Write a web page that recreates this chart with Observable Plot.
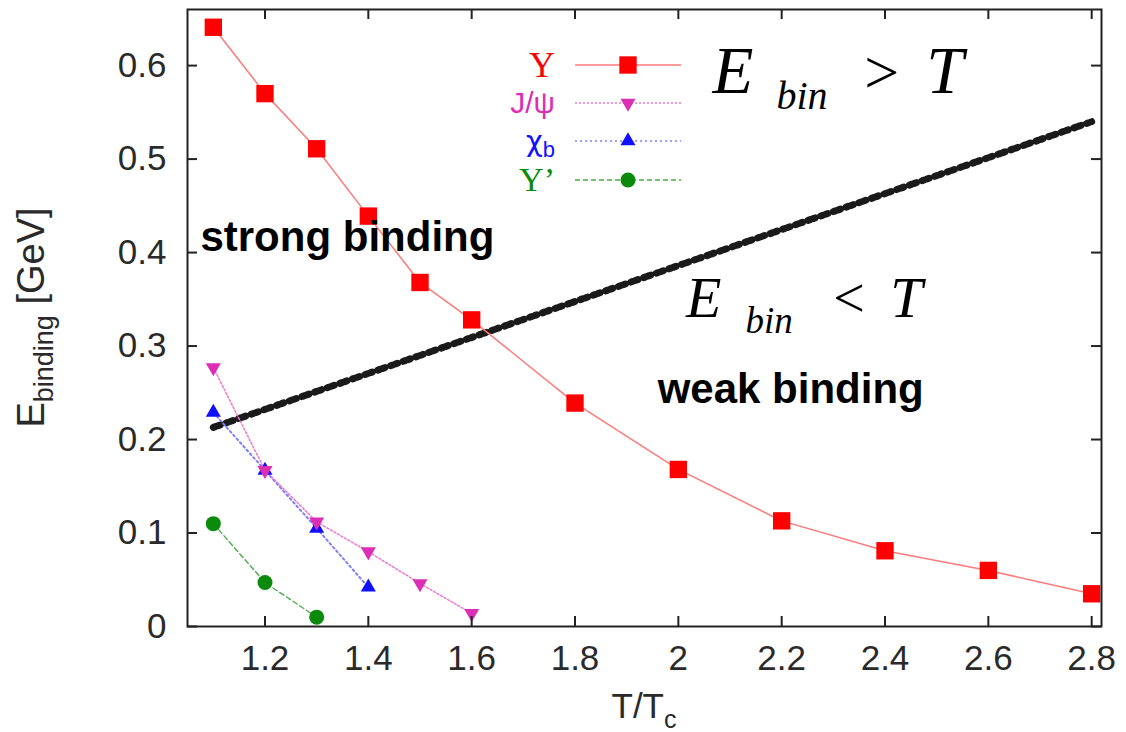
<!DOCTYPE html>
<html><head><meta charset="utf-8">
<script src="https://cdn.jsdelivr.net/npm/d3@7"></script>
<script src="https://cdn.jsdelivr.net/npm/@observablehq/plot@0.6"></script>
<style>body{margin:0;background:#fff} #chart{width:1126px;height:732px}</style>
</head><body><div id="chart"></div>
<script>
// ---- data ----
const tUps = [1.1, 1.2, 1.3, 1.4, 1.5, 1.6, 1.8, 2.0, 2.2, 2.4, 2.6, 2.8];
const eUps = [0.641, 0.570, 0.511, 0.439, 0.368, 0.328, 0.239, 0.168, 0.113, 0.081, 0.060, 0.035];
const tJpsi = [1.1, 1.2, 1.3, 1.4, 1.5, 1.6];
const eJpsi = [0.277, 0.167, 0.112, 0.080, 0.046, 0.014];
const tChib = [1.1, 1.2, 1.3, 1.4];
const eChib = [0.229, 0.167, 0.105, 0.042];
const tUps2 = [1.1, 1.2, 1.3];
const eUps2 = [0.110, 0.047, 0.010];
const tThresh = [1.1, 2.8];
const eThresh = [0.213, 0.540];
const xTicks = [1.2, 1.4, 1.6, 1.8, 2, 2.2, 2.4, 2.6, 2.8];
const yTicks = [0, 0.1, 0.2, 0.3, 0.4, 0.5, 0.6];
const legendNames = ["\u03A5", "J/\u03C8", "\u03C7", "\u03A5\u2019"];
const regionText = ["strong binding", "weak binding"];
const regionT = [1.075, 1.96];
const regionE = [0.416, 0.254];
const mathText = ["E", "bin", ">", "T", "E", "bin", "<", "T"];
const mathT = [2.066, 2.19, 2.36, 2.48, 2.015, 2.13, 2.30, 2.41];
const mathE = [0.571, 0.554, 0.571, 0.571, 0.331, 0.314, 0.331, 0.331];

const colUps = "#ff0000", colJ = "#dc2fb5", colChi = "#1010ff", colUps2 = "#0b8a0b";
const pts = (ts, es) => ts.map((t, i) => ({t, e: es[i]}));
const ups = pts(tUps, eUps), jpsi = pts(tJpsi, eJpsi), chib = pts(tChib, eChib), ups2 = pts(tUps2, eUps2);
const thresh = pts(tThresh, eThresh);
const regions = regionText.map((s, i) => ({s, t: regionT[i], e: regionE[i]}));
const math = mathText.map((s, i) => ({s, t: mathT[i], e: mathE[i], i}));

const triDown = {draw(ctx, size) {
  const y = -Math.sqrt(size / (Math.sqrt(3) * 3));
  ctx.moveTo(0, -y * 2); ctx.lineTo(-Math.sqrt(3) * y, y); ctx.lineTo(Math.sqrt(3) * y, y); ctx.closePath();
}};

const W = 1126, H = 732, mL = 187, mR = 25, mT = 9, mB = 106;
const fw = W - mL - mR, fh = H - mT - mB;
const mathSize = (d) => [67, 40, 62, 67, 58, 37, 56, 58][d.i];
const sans = "'Liberation Sans', Arial, sans-serif";
const serif = "'Liberation Serif', 'Times New Roman', serif";

const plot = Plot.plot({
  width: W, height: H,
  marginLeft: mL, marginRight: mR, marginTop: mT, marginBottom: mB,
  style: {fontFamily: sans, background: "#fff", overflow: "visible"},
  x: {domain: [1.05, 2.819]},
  y: {domain: [0, 0.66]},
  marks: [
    // threshold E = T
    Plot.line(thresh, {x: "t", y: "e", stroke: "#1a1a1a", strokeWidth: 7, strokeDasharray: "2.2,3,2.2,6"}),
    // series lines
    Plot.line(ups2, {x: "t", y: "e", stroke: "#4aa84a", strokeWidth: 1.3, strokeDasharray: "5,3"}),
    Plot.line(chib, {x: "t", y: "e", stroke: "#7f7fff", strokeWidth: 2, strokeDasharray: "2,3"}),
    Plot.line(jpsi, {x: "t", y: "e", stroke: "#ee77cc", strokeWidth: 1.5, strokeDasharray: "2,2"}),
    Plot.line(ups, {x: "t", y: "e", stroke: "#ff7a7a", strokeWidth: 1.5}),
    // markers
    Plot.dot(ups2, {x: "t", y: "e", r: 7.5, fill: colUps2, symbol: "circle"}),
    Plot.dot(chib, {x: "t", y: "e", r: 5.6, fill: colChi, symbol: "triangle"}),
    Plot.dot(jpsi, {x: "t", y: "e", r: 5.6, fill: colJ, symbol: triDown}),
    Plot.dot(ups, {x: "t", y: "e", r: 9.8, fill: colUps, symbol: "square"}),
    // region labels
    Plot.text(regions, {x: "t", y: "e", text: "s", textAnchor: "start", fontSize: 42, fontWeight: "bold", fill: "#000"}),
    // E_bin vs T
    Plot.text(math.filter(d => d.s !== ">" && d.s !== "<"), {x: "t", y: "e", text: "s", textAnchor: "start", lineAnchor: "bottom", fontSize: mathSize, fontStyle: "italic", fontFamily: serif, fill: "#000"}),
    Plot.text(math.filter(d => d.s === ">" || d.s === "<"), {x: "t", y: "e", text: "s", textAnchor: "start", lineAnchor: "bottom", fontSize: mathSize, fontFamily: serif, fill: "#000"}),
    // inward ticks on all four sides
    Plot.tickX(xTicks, {x: d => d, insetTop: fh - 10, stroke: "#222", strokeWidth: 2}),
    Plot.tickX(xTicks, {x: d => d, insetBottom: fh - 10, stroke: "#222", strokeWidth: 2}),
    Plot.tickY(yTicks, {y: d => d, insetRight: fw - 10, stroke: "#222", strokeWidth: 2}),
    Plot.tickY(yTicks, {y: d => d, insetLeft: fw - 10, stroke: "#222", strokeWidth: 2}),
    Plot.axisX({ticks: xTicks, tickSize: 0, tickPadding: 19, tickFormat: d => String(d), fontSize: 35, fill: "#2a2a2a", label: null}),
    Plot.axisY({ticks: yTicks, tickSize: 0, tickPadding: 21, tickFormat: d => String(d), fontSize: 35, fill: "#2a2a2a", label: null}),
    Plot.frame({stroke: "#222", strokeWidth: 2})
  ]
});
document.getElementById("chart").appendChild(plot);

// axis titles with subscripts, legend
const svg = d3.select(plot);
const yl = svg.append("text").attr("transform", `translate(44,${mT + fh / 2}) rotate(-90)`)
  .attr("text-anchor", "middle").attr("fill", "#2a2a2a").attr("font-size", 38).attr("font-family", sans);
yl.append("tspan").text("E");
yl.append("tspan").attr("font-size", 27).attr("dy", 9).text("binding");
yl.append("tspan").attr("dy", -9).text(" [GeV]");
const xl = svg.append("text").attr("x", mL + fw / 2).attr("y", 718)
  .attr("text-anchor", "middle").attr("fill", "#2a2a2a").attr("font-size", 35).attr("font-family", sans);
xl.append("tspan").text("T/T");
xl.append("tspan").attr("font-size", 25).attr("dy", 10).text("c");

const lg = svg.append("g");
const rows = [
  {name: legendNames[0], col: colUps, line: "#ff7a7a", dash: null, sym: d3.symbolSquare, r: 9.8, font: serif, fs: 36, w: 1.5},
  {name: legendNames[1], col: colJ, line: "#ee77cc", dash: "2,2", sym: triDown, r: 5.6, font: sans, fs: 30, w: 1.5},
  {name: legendNames[2], col: colChi, line: "#9f9fff", dash: "2,3", sym: d3.symbolTriangle, r: 5.6, font: "'DejaVu Sans', sans-serif", fs: 29, sub: "b", w: 2},
  {name: legendNames[3], col: colUps2, line: "#4aa84a", dash: "5,3", sym: d3.symbolCircle, r: 7.5, font: serif, fs: 34, w: 1.3}
];
const ys = [65, 103, 141, 180];
rows.forEach((r, i) => {
  const y = ys[i];
  lg.append("line").attr("x1", 575).attr("x2", 681).attr("y1", y).attr("y2", y)
    .attr("stroke", r.line).attr("stroke-width", r.w).attr("stroke-dasharray", r.dash);
  lg.append("path").attr("transform", `translate(628,${y})`)
    .attr("d", d3.symbol(r.sym, r.r * r.r * Math.PI)()).attr("fill", r.col);
  const t = lg.append("text").attr("x", 555).attr("y", y + r.fs * 0.33).attr("text-anchor", "end")
    .attr("fill", r.col).attr("font-size", r.fs).attr("font-family", r.font);
  t.append("tspan").text(r.name);
  if (r.sub) t.append("tspan").attr("font-family", sans).attr("font-size", 22).attr("dy", 6).text(r.sub);
});
</script></body></html>
